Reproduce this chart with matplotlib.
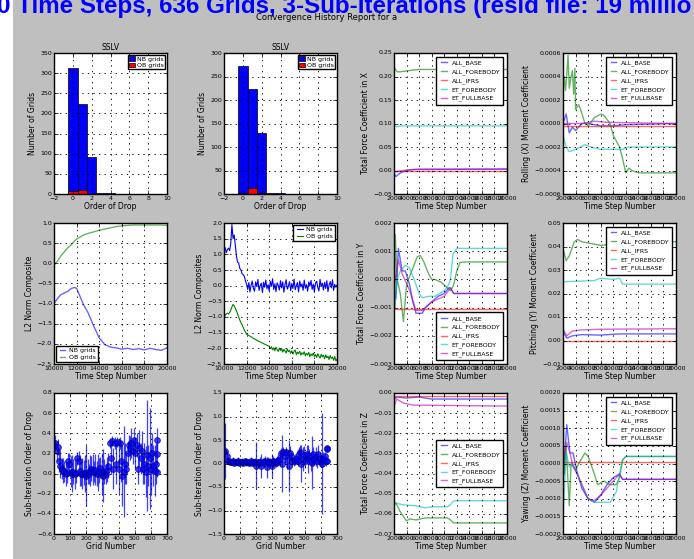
import numpy as np
import matplotlib
matplotlib.use("Agg")
import matplotlib.pyplot as plt
from matplotlib.patches import Rectangle

plt.style.use("classic")
plt.rcParams["font.family"] = ["DejaVu Sans"]

# ---------------- data ----------------
drop_bins = [0, 1, 2, 3, 4]
hist1_nb = [312, 223, 93, 2, 2]
hist1_ob = [8, 9, 0, 0, 0]
hist2_nb = [273, 223, 129, 2, 2]
hist2_ob = [3, 12, 3, 0, 0]

# L2 norm, run 1
l2a_t = [10000, 10300, 10600, 10900, 11200, 11500, 11800, 12000, 12300, 12600, 13000, 13500,
         14000, 14500, 15000, 15500, 16000, 16500, 17000, 17500, 18000, 18500, 19000, 19500, 20000]
l2a_nb = [-1.00, -0.88, -0.78, -0.74, -0.70, -0.63, -0.60, -0.62, -0.82, -1.02, -1.22, -1.55,
          -1.85, -2.02, -2.08, -2.10, -2.13, -2.11, -2.14, -2.12, -2.15, -2.11, -2.14, -2.16, -2.10]
l2a_ob = [-0.05, 0.05, 0.18, 0.28, 0.38, 0.45, 0.55, 0.60, 0.65, 0.70, 0.74, 0.78,
          0.82, 0.85, 0.88, 0.91, 0.93, 0.94, 0.95, 0.95, 0.95, 0.95, 0.95, 0.95, 0.94]

# L2 norm, run 2 (noisy)
l2b_t_head = [10000, 10100, 10200, 10300, 10400, 10500, 10600, 10700, 10800, 10900, 11000,
              11100, 11200, 11300, 11400, 11500, 11600, 11700, 11800, 11900]
l2b_nb_head = [1.10, 1.22, 1.05, 1.15, 1.20, 1.12, 1.35, 1.95, 1.50, 1.62, 1.30,
               0.95, 0.75, 0.72, 0.55, 0.50, 0.38, 0.35, 0.30, 0.15]
l2b_nb_tail = [0.05, -0.12, 0.10, -0.20, 0.02, 0.15, -0.08, -0.18, 0.12, -0.03,
               0.20, -0.15, 0.00, 0.08, -0.22, 0.11, -0.05, 0.18, -0.10, 0.03,
               -0.17, 0.14, -0.02, 0.22, -0.12, 0.06, -0.19, 0.09, 0.01, -0.14,
               0.16, -0.07, 0.12, -0.21, 0.04, 0.19, -0.11, -0.02, 0.13, -0.16,
               0.07, -0.09, 0.21, -0.13, 0.00, 0.10, -0.20, 0.15, -0.04, 0.06,
               -0.15, 0.18, -0.08, 0.03, -0.18, 0.12, -0.01, 0.17, -0.12, 0.05,
               -0.21, 0.09, 0.14, -0.06, -0.17, 0.20, -0.03, 0.08, -0.14, 0.11,
               -0.09, 0.16, -0.19, 0.02, 0.13, -0.07, 0.19, -0.15, 0.04, -0.05, 0.02]
l2b_ob_head = [-1.05, -0.95, -0.90, -0.88, -0.90, -0.86, -0.78, -0.68, -0.60, -0.64, -0.72,
               -0.80, -0.90, -1.00, -1.10, -1.18, -1.25, -1.33, -1.42, -1.48,
               -1.55, -1.57, -1.59, -1.61, -1.63, -1.66, -1.68, -1.70, -1.72, -1.74,
               -1.76, -1.78, -1.80, -1.81, -1.83, -1.85, -1.87, -1.88, -1.90, -1.92]
l2b_ob_tail = [-1.93, -2.02, -1.95, -2.05, -1.98, -2.08, -1.96, -2.04, -2.10, -1.99,
               -2.07, -2.01, -2.12, -2.03, -2.09, -2.15, -2.02, -2.11, -2.06, -2.16,
               -2.08, -2.18, -2.10, -2.05, -2.20, -2.12, -2.17, -2.09, -2.22, -2.14,
               -2.19, -2.11, -2.24, -2.16, -2.21, -2.13, -2.27, -2.18, -2.23, -2.15,
               -2.26, -2.20, -2.29, -2.17, -2.25, -2.31, -2.19, -2.27, -2.22, -2.33,
               -2.21, -2.30, -2.25, -2.36, -2.23, -2.32, -2.28, -2.38, -2.26, -2.40, -2.35]

# sub-iteration order of drop per grid
grid_ids = [0, 8, 16, 24, 32, 40, 48, 56, 64, 72, 80, 88, 96, 104, 112, 120, 128, 136, 144, 152,
            160, 168, 176, 184, 192, 200, 208, 216, 224, 232, 240, 248, 256, 264, 272, 280, 288,
            296, 304, 312, 320, 328, 336, 344, 352, 360, 368, 376, 384, 392, 400, 408, 416, 424,
            432, 440, 448, 456, 464, 472, 480, 488, 496, 504, 512, 520, 528, 536, 544, 552, 560,
            568, 576, 584, 592, 600, 608, 616, 624, 632, 636, 636, 636]
sub1_val = [0.28, 0.30, 0.22, 0.26, 0.12, 0.08, 0.05, 0.03, 0.02, 0.00, 0.01, 0.12, 0.10, 0.02,
            0.00, 0.02, 0.00, 0.01, 0.15, 0.12, 0.03, 0.00, 0.00, 0.01, 0.00, -0.02, 0.02, 0.00,
            0.03, 0.05, 0.04, 0.02, 0.04, 0.00, 0.01, 0.03, 0.06, 0.00, -0.02, 0.02, 0.00, 0.04,
            0.08, 0.30, 0.15, 0.32, 0.05, 0.30, 0.10, 0.31, 0.05, 0.30, 0.12, -0.02, 0.02, 0.10,
            0.05, 0.20, 0.28, 0.25, 0.30, 0.22, 0.33, 0.20, 0.28, 0.05, 0.25, 0.15, 0.22, 0.05,
            0.10, 0.02, 0.18, 0.08, 0.15, 0.05, 0.20, 0.08, 0.03, 0.10, 0.33, 0.19, 0.02]
sub1_err = [0.05, 0.08, 0.10, 0.08, 0.10, 0.12, 0.10, 0.12, 0.10, 0.12, 0.10, 0.08, 0.10, 0.15,
            0.18, 0.12, 0.15, 0.10, 0.06, 0.10, 0.15, 0.12, 0.15, 0.12, 0.18, 0.30, 0.12, 0.10,
            0.15, 0.12, 0.15, 0.10, 0.15, 0.12, 0.18, 0.12, 0.10, 0.20, 0.26, 0.12, 0.10, 0.12,
            0.12, 0.05, 0.15, 0.05, 0.20, 0.06, 0.20, 0.05, 0.25, 0.06, 0.20, 0.30, 0.45, 0.20,
            0.15, 0.12, 0.10, 0.12, 0.15, 0.12, 0.12, 0.15, 0.12, 0.15, 0.18, 0.15, 0.20, 0.15,
            0.20, 0.25, 0.55, 0.20, 0.50, 0.25, 0.20, 0.20, 0.25, 0.20, 0.12, 0.10, 0.05]
sub2_val = [0.25, 0.27, 0.15, 0.06, 0.05, 0.04, 0.03, 0.05, 0.02, 0.04, 0.03, 0.05, 0.02, 0.04,
            0.03, 0.02, 0.05, 0.03, 0.04, 0.02, 0.03, 0.05, 0.02, 0.04, 0.03, -0.05, 0.03, 0.02,
            0.04, -0.05, 0.03, 0.02, 0.05, -0.08, 0.03, 0.04, 0.02, -0.05, 0.05, 0.03, 0.02, 0.05,
            0.08, 0.10, 0.22, 0.00, 0.25, 0.15, 0.25, 0.08, -0.05, 0.22, 0.15, 0.05, 0.05, 0.08,
            0.10, 0.06, 0.20, 0.25, 0.00, 0.10, 0.18, 0.05, 0.20, 0.10, 0.15, 0.05, 0.02, 0.20,
            0.10, 0.15, 0.05, 0.20, 0.10, 0.05, 0.00, 0.10, 0.15, 0.05, 0.32, 0.30, 0.05]
sub2_err = [0.10, 0.60, 0.10, 0.08, 0.05, 0.06, 0.05, 0.08, 0.05, 0.06, 0.05, 0.08, 0.06, 0.05,
            0.08, 0.05, 0.06, 0.08, 0.05, 0.06, 0.05, 0.08, 0.06, 0.05, 0.08, 0.50, 0.06, 0.08,
            0.10, 0.25, 0.08, 0.10, 0.12, 0.22, 0.10, 0.08, 0.10, 0.25, 0.12, 0.08, 0.10, 0.10,
            0.12, 0.15, 0.10, 0.60, 0.10, 0.15, 0.10, 0.20, 0.55, 0.15, 0.10, 0.10, 0.10, 0.12,
            0.10, 0.12, 0.15, 0.15, 0.40, 0.25, 0.20, 0.15, 0.20, 0.30, 0.15, 0.20, 0.56, 0.15,
            0.10, 0.20, 0.15, 0.20, 0.15, 0.10, 1.07, 0.15, 0.10, 0.10, 0.05, 0.05, 0.05]

series_names = ["ALL_BASE", "ALL_FOREBODY", "ALL_IFRS", "ET_FOREBODY", "ET_FULLBASE"]

# force / moment histories: (time steps, values) for each series
fx = {
    "ALL_BASE": ([2000, 2300, 3000, 4000, 5000, 20000], [-0.005, -0.013, -0.005, 0.0, 0.002, 0.003]),
    "ALL_FOREBODY": ([2000, 2500, 3000, 4000, 6000, 20000], [0.220, 0.210, 0.210, 0.212, 0.215, 0.215]),
    "ALL_IFRS": ([2000, 20000], [-0.001, -0.001]),
    "ET_FOREBODY": ([2000, 2500, 3000, 20000], [0.095, 0.093, 0.095, 0.095]),
    "ET_FULLBASE": ([2000, 2500, 4000, 6000, 20000], [-0.003, -0.002, 0.001, 0.003, 0.003]),
}
mx = {
    "ALL_BASE": ([2000, 2500, 3000, 3500, 4000, 5000, 6000, 8000, 10000, 12000, 20000],
                 [0.0, 0.00008, -0.00008, -0.00003, -0.00006, 0.0, 0.0, -0.00002, -0.00002, -0.00001, 0.0]),
    "ALL_FOREBODY": ([2000, 2200, 2400, 2600, 2800, 3000, 3300, 3500, 3700, 3900, 4000, 4500, 4800,
                      5500, 6000, 7000, 8000, 8500, 9500, 10000, 11000, 11500, 12000, 12500, 13000,
                      14000, 20000],
                     [0.00025, 0.0004, 0.00028, 0.00042, 0.00058, 0.0003, 0.0004, 0.00045, 0.00025,
                      0.00047, 0.00012, 0.00016, 0.00012, 0.0, -0.00002, 0.00005, 0.00008, 0.00007,
                      0.0, -0.0001, -0.0002, -0.0003, -0.00042, -0.00038, -0.0004, -0.00042, -0.00042]),
    "ALL_IFRS": ([2000, 20000], [-0.00002, -0.00002]),
    "ET_FOREBODY": ([2000, 2500, 3000, 4000, 5500, 6500, 8000, 10000, 11500, 12500, 20000],
                    [-0.0001, -0.0002, -0.00024, -0.00022, -0.00018, -0.0002, -0.00022, -0.00022,
                     -0.00022, -0.0002, -0.0002]),
    "ET_FULLBASE": ([2000, 5000, 7000, 9000, 20000], [0.0, 0.0, 0.00002, 0.00001, 0.0]),
}
fy = {
    "ALL_BASE": ([2000, 2300, 2700, 3300, 3800, 4500, 5000, 5500, 6000, 6500, 7000, 8000, 9000,
                  10000, 10700, 11000, 11500, 12000, 20000],
                 [-0.0003, -0.0007, 0.0011, 0.0003, 0.0003, -0.0002, -0.0008, -0.0012, -0.0012,
                  -0.0012, -0.001, -0.0008, -0.0006, -0.0005, -0.0003, -0.0003, -0.0005, -0.0005, -0.0005]),
    "ALL_FOREBODY": ([2000, 2100, 2200, 2500, 3000, 3500, 4000, 4300, 5000, 5700, 6200, 6800, 7500,
                      8000, 8500, 9500, 10500, 11000, 11500, 12000, 12500, 13500, 20000],
                     [0.0016, -0.001, 0.0016, 0.0, -0.0005, -0.0015, -0.0002, 0.0, 0.0004, 0.0008,
                      0.00085, 0.0006, 0.0002, 0.0, 0.0, -0.0001, -0.0003, -0.0004, -0.0002, 0.0003,
                      0.0006, 0.00062, 0.00062]),
    "ALL_IFRS": ([2000, 20000], [-0.00105, -0.00105]),
    "ET_FOREBODY": ([2000, 2500, 3000, 3800, 4500, 5200, 6000, 6500, 7500, 8500, 10000, 10700,
                     11000, 11400, 12000, 20000],
                    [-0.0012, 0.0, 0.0003, 0.0005, 0.0004, 0.0, -0.0005, -0.00065, -0.0006, -0.0006,
                     -0.0004, -0.0002, 0.0, 0.0009, 0.0011, 0.0011]),
    "ET_FULLBASE": ([2000, 2700, 3300, 4500, 5500, 6500, 8000, 10000, 11000, 11500, 20000],
                    [-0.0003, 0.0007, 0.0002, -0.0004, -0.0011, -0.0011, -0.0008, -0.0006, -0.0003,
                     -0.0005, -0.0005]),
}
my = {
    "ALL_BASE": ([2000, 2600, 3500, 5000, 8000, 11000, 20000], [0.004, 0.001, 0.002, 0.0025, 0.0023, 0.0028, 0.0028]),
    "ALL_FOREBODY": ([2000, 2500, 3000, 3800, 4300, 5000, 7000, 8000, 10000, 11000, 20000],
                     [0.039, 0.034, 0.036, 0.042, 0.043, 0.042, 0.041, 0.0405, 0.041, 0.042, 0.042]),
    "ALL_IFRS": ([2000, 20000], [0.0, 0.0]),
    "ET_FOREBODY": ([2000, 7000, 8000, 10000, 11000, 11500, 20000],
                    [0.025, 0.0255, 0.0265, 0.026, 0.0265, 0.024, 0.024]),
    "ET_FULLBASE": ([2000, 2600, 3500, 5000, 8000, 20000], [0.005, 0.002, 0.004, 0.0045, 0.0048, 0.005]),
}
fz = {
    "ALL_BASE": ([2000, 2500, 4000, 6000, 8000, 20000], [-0.003, -0.002, -0.0025, -0.002, -0.003, -0.003]),
    "ALL_FOREBODY": ([2000, 2300, 3000, 4000, 4500, 5500, 7000, 10500, 11000, 11500, 20000],
                     [-0.056, -0.0545, -0.059, -0.0635, -0.0625, -0.063, -0.062, -0.062, -0.063, -0.0645, -0.0645]),
    "ALL_IFRS": ([2000, 20000], [-0.0015, -0.0015]),
    "ET_FOREBODY": ([2000, 3500, 5500, 7000, 8000, 10500, 11000, 11500, 20000],
                    [-0.0545, -0.0555, -0.056, -0.057, -0.0565, -0.0565, -0.0555, -0.0535, -0.0535]),
    "ET_FULLBASE": ([2000, 2400, 3500, 5000, 20000], [-0.007, -0.003, -0.005, -0.006, -0.0065]),
}
mz = {
    "ALL_BASE": ([2000, 2600, 3100, 3600, 4200, 5000, 6000, 7000, 8000, 9000, 10000, 11000, 11500, 20000],
                 [-0.0005, 0.0011, 0.0003, 0.0003, -0.0002, -0.0007, -0.001, -0.0011, -0.0009, -0.0006,
                  -0.0004, -0.0003, -0.00045, -0.00045]),
    "ALL_FOREBODY": ([2000, 2200, 2500, 3000, 3300, 4000, 4500, 5500, 6000, 7000, 7500, 8500, 9500,
                      10500, 11000, 11500, 12000, 20000],
                     [0.0017, -0.0003, 0.0005, -0.0012, 0.0, -0.0002, 0.0, 0.0003, 0.0002, -0.0003,
                      -0.0006, -0.0005, -0.0006, -0.0006, -0.0004, 0.0001, 0.0002, 0.0002]),
    "ALL_IFRS": ([2000, 20000], [0.00005, 0.00005]),
    "ET_FOREBODY": ([2000, 2500, 3000, 3500, 4000, 5000, 6000, 7000, 9000, 9500, 10500, 11000,
                     11500, 12000, 20000],
                    [-0.0015, 0.0003, -0.0001, 0.0, -0.0002, -0.0006, -0.001, -0.0011, -0.0011,
                     -0.0011, -0.0008, -0.0003, 0.0001, 0.0002, 0.0002]),
    "ET_FULLBASE": ([2000, 2600, 3100, 3500, 4500, 6000, 7000, 8000, 9000, 10000, 11000, 11500, 20000],
                    [0.0, 0.0006, 0.0003, 0.0, -0.0004, -0.001, -0.00105, -0.0009, -0.0007, -0.0005,
                     -0.0003, -0.00045, -0.00045]),
}

series_colors = {"ALL_BASE": "b", "ALL_FOREBODY": "g", "ALL_IFRS": "r",
                 "ET_FOREBODY": "c", "ET_FULLBASE": "m"}

TICK = 4.5
LAB = 5.5
LEG = 4.5

W, H = 694.0, 559.0
fig = plt.figure(figsize=(W / 100, H / 100), dpi=100, facecolor="0.75")
fig.patches.append(Rectangle((0, 0), 13 / W, 1, transform=fig.transFigure,
                             facecolor="white", edgecolor="none", zorder=-1))

col_left = [54, 224, 394, 563]
row_top = [53, 223, 393]


def make_ax(r, c):
    ax = fig.add_axes([col_left[c] / W, (H - row_top[r] - 141) / H, 113 / W, 141 / H])
    ax.grid(True, color="k", linestyle=":", linewidth=0.6)
    ax.tick_params(labelsize=TICK, length=3, pad=1.5)
    return ax


def hist_panel(ax, nb, ob):
    ax.bar(drop_bins, nb, width=1.0, align="center", color="b", edgecolor="k", linewidth=0.5,
           label="NB grids")
    ax.bar(drop_bins, ob, width=1.0, align="center", color="r", edgecolor="k", linewidth=0.5,
           label="OB grids")
    ax.set_xlim(-2, 10)
    ax.set_xlabel("Order of Drop", fontsize=LAB, labelpad=1)
    ax.set_ylabel("Number of Grids", fontsize=LAB, labelpad=2)
    ax.set_title("SSLV", fontsize=LAB, pad=2)
    ax.legend(loc="upper right", fontsize=LEG, handlelength=1.0, handletextpad=0.3,
              borderpad=0.2, labelspacing=0.2, borderaxespad=0.3)


def history_panel(ax, data, ylabel, ylim, loc):
    for name in series_names:
        t, v = data[name]
        ax.plot(t, v, color=series_colors[name], alpha=0.6, linewidth=1.0, label=name)
    ax.set_xlim(2000, 20000)
    ax.set_xticks(range(2000, 20001, 2000))
    ax.set_ylim(*ylim)
    ax.set_xlabel("Time Step Number", fontsize=LAB, labelpad=1)
    ax.set_ylabel(ylabel, fontsize=LAB, labelpad=2)
    ax.legend(loc=loc, fontsize=LEG, handlelength=1.5, handletextpad=0.4, borderpad=0.5,
              labelspacing=0.45, numpoints=2, borderaxespad=0.6)


def sub_panel(ax, vals, errs, ylim):
    ax.errorbar(grid_ids, vals, yerr=errs, fmt="o", color="b", ecolor="b", markersize=4.2,
                markeredgecolor="#000080", markeredgewidth=0.6, elinewidth=0.9, alpha=0.75,
                capsize=0)
    ax.set_xlim(0, 700)
    ax.set_ylim(*ylim)
    ax.set_xlabel("Grid Number", fontsize=LAB, labelpad=1)
    ax.set_ylabel("Sub-Iteration Order of Drop", fontsize=LAB, labelpad=2)


# row 1
hist_panel(make_ax(0, 0), hist1_nb, hist1_ob)
ax = make_ax(0, 1)
hist_panel(ax, hist2_nb, hist2_ob)
ax.set_ylim(0, 300)
history_panel(make_ax(0, 2), fx, "Total Force Coefficient in X", (-0.05, 0.25), "upper right")
history_panel(make_ax(0, 3), mx, "Rolling (X) Moment Coefficient", (-0.0006, 0.0006), "upper right")

# row 2
ax = make_ax(1, 0)
ax.plot(l2a_t, l2a_nb, color="b", alpha=0.6, label="NB grids")
ax.plot(l2a_t, l2a_ob, color="g", alpha=0.6, label="OB grids")
ax.set_xlim(10000, 20000)
ax.set_ylim(-2.5, 1.0)
ax.set_xlabel("Time Step Number", fontsize=LAB, labelpad=1)
ax.set_ylabel("L2 Norm Composite", fontsize=LAB, labelpad=2)
ax.legend(loc="lower left", fontsize=LEG, handlelength=1.5, handletextpad=0.3, borderpad=0.3,
          labelspacing=0.3, borderaxespad=0.3)

ax = make_ax(1, 1)
t_nb = l2b_t_head + list(range(12000, 20001, 100))
t_ob = list(range(10000, 20001, 100))
ax.plot(t_nb, l2b_nb_head + l2b_nb_tail, color="b", linewidth=0.8, label="NB grids")
ax.plot(t_ob, l2b_ob_head + l2b_ob_tail, color="g", linewidth=0.8, label="OB grids")
ax.set_xlim(10000, 20000)
ax.set_ylim(-2.5, 2.0)
ax.set_xlabel("Time Step Number", fontsize=LAB, labelpad=1)
ax.set_ylabel("L2 Norm Composites", fontsize=LAB, labelpad=2)
ax.legend(loc="upper right", fontsize=LEG, handlelength=1.5, handletextpad=0.3, borderpad=0.3,
          labelspacing=0.3, borderaxespad=0.3)

history_panel(make_ax(1, 2), fy, "Total Force Coefficient in Y", (-0.003, 0.002), "lower right")
history_panel(make_ax(1, 3), my, "Pitching (Y) Moment Coefficient", (-0.01, 0.05), "upper right")

# row 3
sub_panel(make_ax(2, 0), sub1_val, sub1_err, (-0.6, 0.8))
sub_panel(make_ax(2, 1), sub2_val, sub2_err, (-1.5, 1.5))
history_panel(make_ax(2, 2), fz, "Total Force Coefficient in Z", (-0.07, 0.0), "center right")
history_panel(make_ax(2, 3), mz, "Yawing (Z) Moment Coefficient", (-0.002, 0.002), "upper right")

fig.text(-3 / W, 1 - 13 / H, "0 Time Steps, 636 Grids, 3-Sub-Iterations (resid file: 19 millio",
         ha="left", va="baseline", color="blue", fontsize=17.4, fontweight="bold",
         family=["Liberation Sans", "DejaVu Sans"])
fig.text(327 / W, 1 - 17 / H, "Convergence History Report for a", ha="center", va="center",
         fontsize=6)

fig.savefig("out.png", dpi=100, facecolor=fig.get_facecolor())
